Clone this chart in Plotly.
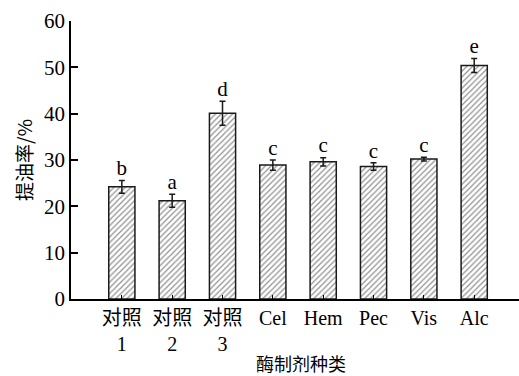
import plotly.graph_objects as go

categories = ["对照<br>1", "对照<br>2", "对照<br>3", "Cel", "Hem", "Pec", "Vis", "Alc"]
values = [24.2, 21.2, 40.1, 28.9, 29.6, 28.6, 30.2, 50.4]
errors = [1.4, 1.4, 2.6, 1.1, 0.9, 0.8, 0.4, 1.5]
letters = ["b", "a", "d", "c", "c", "c", "c", "e"]
y_ticks = [0, 10, 20, 30, 40, 50, 60]

serif = "Liberation Serif, Times New Roman, serif"
mixed = "Liberation Serif, Noto Sans CJK SC, serif"
cjk = "Noto Sans CJK SC, serif"

fig = go.Figure()
fig.add_trace(go.Bar(
    x=categories, y=values, width=0.52,
    marker=dict(color="white", line=dict(color="#1a1a1a", width=1.5),
                pattern=dict(shape="/", fgcolor="#222222", bgcolor="white", size=4, solidity=0.3)),
    error_y=dict(type="data", array=errors, color="#1a1a1a", thickness=1.5, width=3),
    showlegend=False,
))
fig.add_trace(go.Scatter(
    x=categories, y=[v + e for v, e in zip(values, errors)],
    mode="text", text=letters, textposition="top center",
    textfont=dict(family=serif, size=21, color="black"),
    showlegend=False, cliponaxis=False,
))

fig.update_layout(
    width=519, height=376,
    margin=dict(l=71, r=0, t=21, b=77),
    paper_bgcolor="white", plot_bgcolor="white",
    font=dict(family=mixed, size=19, color="black"),
    bargap=0.5,
    annotations=[dict(text="酶制剂种类", xref="paper", yref="paper", x=0.513, y=-0.232,
                      xanchor="center", yanchor="middle", showarrow=False,
                      font=dict(family=cjk, size=18, color="black"))],
)
fig.update_xaxes(
    type="category", range=[-1.01, 7.89],
    showline=True, linecolor="black", linewidth=1.5,
    ticks="inside", ticklen=4, tickcolor="black",
    tickfont=dict(family=mixed, size=20, color="black"),
    showgrid=False, zeroline=False,
)
fig.update_yaxes(
    range=[0, 60], tickvals=y_ticks,
    showline=True, linecolor="black", linewidth=1.5,
    ticks="inside", ticklen=7, tickcolor="black", tickwidth=1.5,
    tickfont=dict(family=serif, size=21, color="black"),
    title=dict(text="提油率/%", font=dict(family=cjk, size=19), standoff=6),
    showgrid=False, zeroline=False,
)
fig.write_html("out.html")
